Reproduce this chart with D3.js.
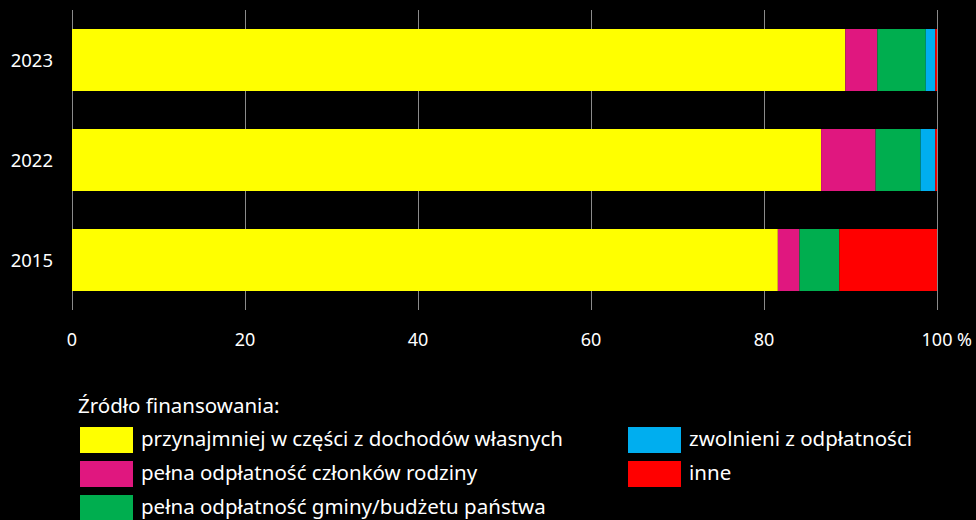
<!DOCTYPE html>
<html>
<head>
<meta charset="utf-8">
<script src="https://cdn.jsdelivr.net/npm/d3@7"></script>
<style>
  body { margin: 0; background: #000; }
  svg text { font-family: "Noto Sans", sans-serif; fill: #fff; }
</style>
</head>
<body>
<div id="chart"></div>
<script>
var width = 976,
  height = 520;

var years = ["2023", "2022", "2015"];
var seriesNames = [
  "przynajmniej w części z dochodów własnych",
  "pełna odpłatność członków rodziny",
  "pełna odpłatność gminy/budżetu państwa",
  "zwolnieni z odpłatności",
  "inne"
];
var seriesColors = ["#ffff00", "#e0177f", "#00ae4f", "#00aeef", "#ff0000"];
var ownIncome = [89.4, 86.6, 81.6];
var family = [3.7, 6.3, 2.5];
var commune = [5.6, 5.2, 4.6];
var exempt = [1.1, 1.7, 0];
var other = [0.2, 0.2, 11.3];
var ticks = [0, 20, 40, 60, 80, 100];

var table = years.map(function(y, i) {
  return { year: y, s0: ownIncome[i], s1: family[i], s2: commune[i], s3: exempt[i], s4: other[i] };
});

var svg = d3.select("#chart").append("svg")
  .attr("width", width)
  .attr("height", height);

var x = d3.scaleLinear().domain([0, 100]).range([72, 937]);
var y = d3.scaleBand().domain(years).range([10, 310]).paddingInner(0.38).paddingOuter(0.19);

// grid lines
svg.append("g").selectAll("line")
  .data(ticks)
  .join("line")
  .attr("x1", function(d) { return x(d) + 0.5; })
  .attr("x2", function(d) { return x(d) + 0.5; })
  .attr("y1", 10)
  .attr("y2", 310)
  .attr("stroke", "#8a8a8a")
  .attr("stroke-width", 1);

var stack = d3.stack().keys(["s0", "s1", "s2", "s3", "s4"]);
var layers = stack(table);

svg.append("g").selectAll("g")
  .data(layers)
  .join("g")
  .attr("fill", function(d, i) { return seriesColors[i]; })
  .selectAll("rect")
  .data(function(d) { return d; })
  .join("rect")
  .attr("x", function(d) { return x(d[0]); })
  .attr("width", function(d) { return x(d[1]) - x(d[0]); })
  .attr("y", function(d) { return y(d.data.year); })
  .attr("height", y.bandwidth());

// year labels
svg.append("g").selectAll("text")
  .data(years)
  .join("text")
  .attr("x", 53)
  .attr("y", function(d) { return y(d) + y.bandwidth() / 2; })
  .attr("dy", "0.36em")
  .attr("text-anchor", "end")
  .style("font-size", "18.5px")
  .text(function(d) { return d; });

// tick labels
svg.append("g").selectAll("text")
  .data(ticks)
  .join("text")
  .attr("x", function(d) { return x(d); })
  .attr("y", 346)
  .attr("text-anchor", "middle")
  .style("font-size", "18px")
  .text(function(d) { return d; });

svg.append("text")
  .attr("x", x(100) + 20)
  .attr("y", 346)
  .style("font-size", "18px")
  .text("%");

// legend
svg.append("text")
  .attr("x", 78)
  .attr("y", 413)
  .style("font-size", "20.5px")
  .text("Źródło finansowania:");

var legendPos = [[80, 427], [80, 461], [80, 495], [628, 427], [628, 461]];

var legend = svg.append("g").selectAll("g")
  .data(seriesNames)
  .join("g")
  .attr("transform", function(d, i) { return "translate(" + legendPos[i][0] + "," + legendPos[i][1] + ")"; });

legend.append("rect")
  .attr("width", 53)
  .attr("height", 26)
  .attr("fill", function(d, i) { return seriesColors[i]; });

legend.append("text")
  .attr("x", 61)
  .attr("y", 12)
  .attr("dy", "0.35em")
  .style("font-size", "20.5px")
  .text(function(d) { return d; });
</script>
</body>
</html>
